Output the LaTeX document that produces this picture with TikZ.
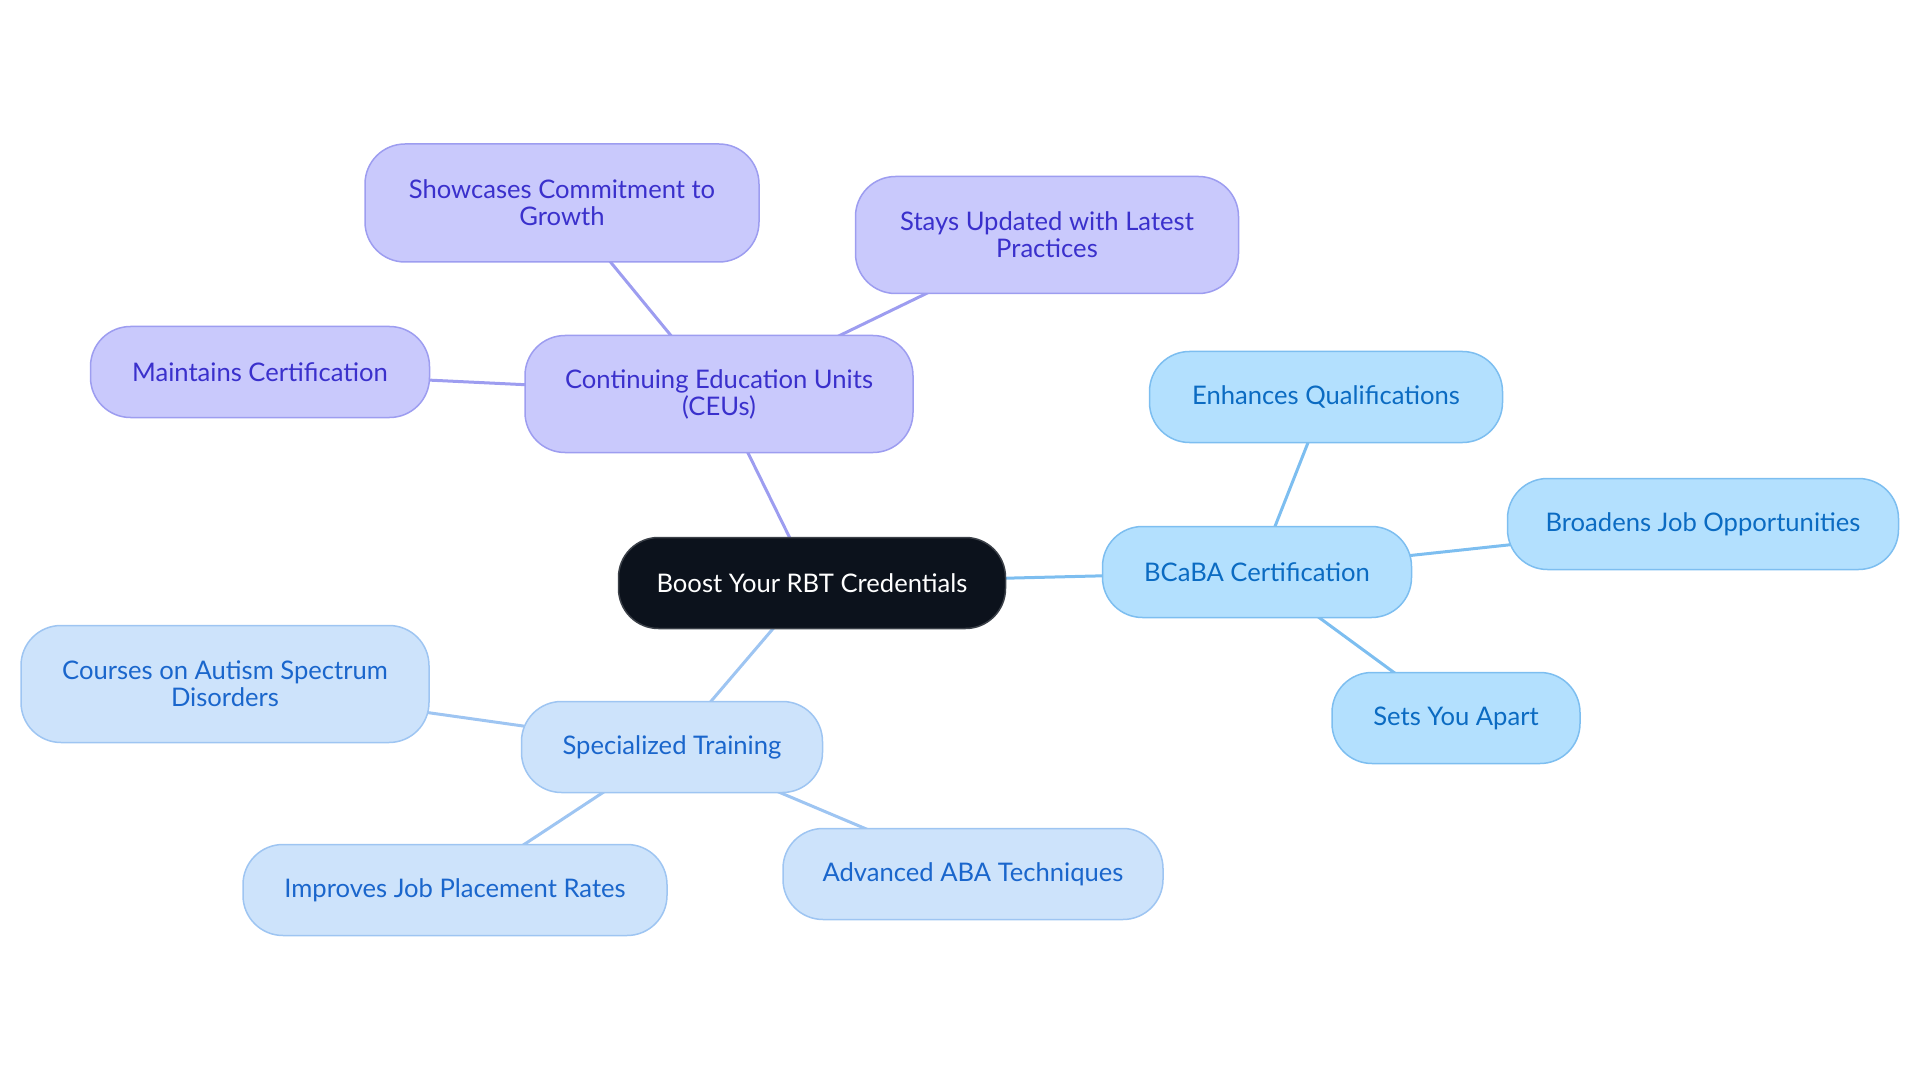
\documentclass[tikz,border=0pt]{standalone}
\usepackage{fontspec}
\setmainfont{Lato}
\usepackage{tikz}
\usetikzlibrary{backgrounds}

\definecolor{rootFill}{HTML}{0C121C}
\definecolor{rootLine}{HTML}{3B4048}
\definecolor{ceuFill}{HTML}{C9C9FC}
\definecolor{ceuLine}{HTML}{9D9DF0}
\definecolor{ceuText}{HTML}{3A30CC}
\definecolor{certFill}{HTML}{B3E0FE}
\definecolor{certLine}{HTML}{7DBEF0}
\definecolor{certText}{HTML}{0B6BC2}
\definecolor{trainFill}{HTML}{CDE3FB}
\definecolor{trainLine}{HTML}{9EC5F2}
\definecolor{trainText}{HTML}{1A66CC}

\begin{document}
\begin{tikzpicture}[x=1pt,y=-1pt,
        box/.style={rounded corners=40pt,line width=1.5pt,inner sep=0pt,align=center,minimum height=91pt,font=\fontsize{25.6}{27}\selectfont},
        rootbox/.style={box,fill=rootFill,draw=rootLine,text=white},
        ceubox/.style={box,fill=ceuFill,draw=ceuLine,text=ceuText},
        certbox/.style={box,fill=certFill,draw=certLine,text=certText},
        trainbox/.style={box,fill=trainFill,draw=trainLine,text=trainText},
        link/.style={line width=3pt}]

        \useasboundingbox (0,0) rectangle (1920,1083);

        \node [rootbox,minimum width=387pt] (root) at (812,583) {Boost Your RBT Credentials};

        \node [ceubox,minimum width=388pt,minimum height=117pt] (ceu) at (719,394) {Continuing Education Units\\(CEUs)};
        \node [ceubox,minimum width=394pt,minimum height=118pt] (growth) at (562,203) {Showcases Commitment to\\Growth};
        \node [ceubox,minimum width=383pt,minimum height=117pt] (updated) at (1047,235) {Stays Updated with Latest\\Practices};
        \node [ceubox,minimum width=339pt] (maintain) at (260,372) {Maintains Certification};

        \node [certbox,minimum width=309pt] (bcaba) at (1257,572) {BCaBA Certification};
        \node [certbox,minimum width=353pt] (qualif) at (1326,397) {Enhances Qualifications};
        \node [certbox,minimum width=391pt] (jobs) at (1703,524) {Broadens Job Opportunities};
        \node [certbox,minimum width=248pt] (apart) at (1456,718) {Sets You Apart};

        \node [trainbox,minimum width=301pt] (training) at (672,747) {Specialized Training};
        \node [trainbox,minimum width=408pt,minimum height=117pt] (autism) at (225,684) {Courses on Autism Spectrum\\Disorders};
        \node [trainbox,minimum width=424pt] (placement) at (455,890) {Improves Job Placement Rates};
        \node [trainbox,minimum width=380pt] (aba) at (973,874) {Advanced ABA Techniques};

        \begin{scope}[on background layer]
            \draw [link,ceuLine] (root.center) -- (ceu.center);
            \draw [link,ceuLine] (ceu.center) -- (growth.center);
            \draw [link,ceuLine] (ceu.center) -- (updated.center);
            \draw [link,ceuLine] (ceu.center) -- (maintain.center);

            \draw [link,certLine] (root.center) -- (bcaba.center);
            \draw [link,certLine] (bcaba.center) -- (qualif.center);
            \draw [link,certLine] (bcaba.center) -- (jobs.center);
            \draw [link,certLine] (bcaba.center) -- (apart.center);

            \draw [link,trainLine] (root.center) -- (training.center);
            \draw [link,trainLine] (training.center) -- (autism.center);
            \draw [link,trainLine] (training.center) -- (placement.center);
            \draw [link,trainLine] (training.center) -- (aba.center);
        \end{scope}
    \end{tikzpicture}
\end{document}
